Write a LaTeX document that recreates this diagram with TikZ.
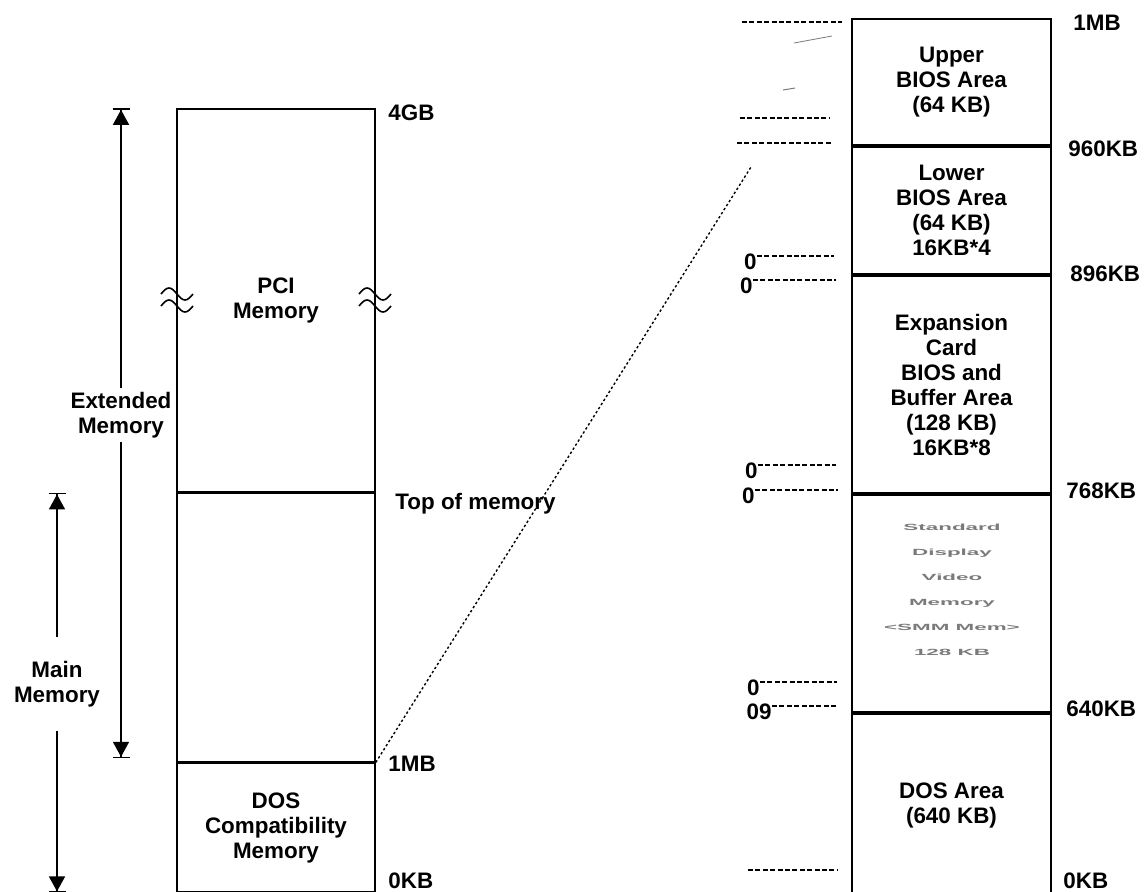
\documentclass[tikz,border=0pt]{standalone}
\usepackage{fontspec}
\setmainfont{Liberation Sans}
\usetikzlibrary{arrows.meta,positioning}
\definecolor{ghostgray}{HTML}{7A7A7A}

\begin{document}
\begin{tikzpicture}[x=0.5pt,y=-0.5pt,
  every node/.style={font=\fontsize{11.2}{12.5}\selectfont\bfseries},
  seg/.style={draw, line width=0.8pt, minimum width=99pt, inner sep=0pt, align=center},
  rseg/.style={seg, line width=1pt, minimum width=99.5pt},
  addr/.style={anchor=west, inner sep=0pt},
  dimline/.style={line width=0.8pt,
    -{Triangle[length=7.5pt,width=8pt]Bar[width=8.5pt]}},
  dotline/.style={line width=0.7pt, dash pattern=on 1.2pt off 1.2pt},
  hexdash/.style={line width=1.1pt, dash pattern=on 2.5pt off 1.2pt},
  ghost/.style={ghostgray, inner sep=0pt, align=center}]
  \useasboundingbox (0,0) rectangle (1147,891);

  %% Left column: whole address space
  \node[seg, minimum height=191.5pt] (pci) at (276,300.5) {PCI\\Memory};
  \node[seg, minimum height=134pt, below=0pt of pci] (mainblk) {};
  \node[seg, minimum height=64.5pt, below=0pt of mainblk] (dosc)
    {DOS\\Compatibility\\Memory};

  %% Break marks on the PCI block
  \foreach \sx in {177,375} {
    \foreach \dy in {-6,6} {
      \draw[line width=0.8pt] (\sx-16,300+\dy) sin (\sx-8,294+\dy)
        cos (\sx,300+\dy) sin (\sx+8,306+\dy) cos (\sx+16,300+\dy);
    }
  }

  %% Left column addresses
  \node[addr] (a4gb) at (388,113) {4GB};
  \node[addr] (atop) at (395,504) {Top of memory};
  \node[addr] (a1mb) at (388,764) {1MB};
  \node[addr] (a0kb) at (388,881) {0KB};

  %% Extended / main memory spans
  \node[align=center, inner sep=2pt] (extmem) at (121,415) {Extended\\Memory};
  \draw[dimline] (extmem.north) -- (extmem.north |- pci.north);
  \draw[dimline] (extmem.south) -- ([yshift=2pt]extmem.south |- dosc.north);
  \node[align=center, inner xsep=2pt, inner ysep=12pt] (mainmem) at (57,684)
    {Main\\Memory};
  \draw[dimline] (mainmem.north) -- (mainmem.north |- mainblk.north);
  \draw[dimline] (mainmem.south) -- (mainmem.south |- dosc.south);

  %% Right column: first megabyte
  \node[rseg, minimum height=63pt] (upper) at (951.5,82)
    {Upper\\BIOS Area\\(64 KB)};
  \node[rseg, minimum height=63.5pt, below=0pt of upper] (lower)
    {Lower\\BIOS Area\\(64 KB)\\16KB*4};
  \node[rseg, minimum height=108.5pt, below=0pt of lower] (expn)
    {Expansion\\Card\\BIOS and\\Buffer Area\\(128 KB)\\16KB*8};
  \node[rseg, minimum height=108.5pt, below=0pt of expn] (video) {};
  \node[rseg, minimum height=91.5pt, below=0pt of video] (dos)
    {DOS Area\\(640 KB)};

  %% Faded video memory text
  \node[ghost] (vidtxt) at (952,590)
    {\scalebox{1}[0.4]{Standard}\\\scalebox{1}[0.4]{Display}\\
     \scalebox{1}[0.4]{Video}\\\scalebox{1}[0.4]{Memory}\\
     \scalebox{1}[0.4]{<SMM Mem>}\\\scalebox{1}[0.4]{128 KB}};

  %% Right column addresses
  \node[addr] (b1mb) at (1073,23) {1MB};
  \node[addr] (b960) at (1068,149) {960KB};
  \node[addr] (b896) at (1070,274) {896KB};
  \node[addr] (b768) at (1066,491) {768KB};
  \node[addr] (b640) at (1066,709) {640KB};
  \node[addr] (b0kb) at (1063,881) {0KB};

  %% Zoom lines between the columns
  \coordinate (zoomtop) at (751,167);
  \draw[dotline] (dosc.north east) -- (zoomtop);
  \draw[dotline] (dosc.south east) -- (dos.south west);

  %% Broken hex address marks
  \foreach \y/\xa/\xb in {22/742/842,118/740/830,143/737/832,870/748/837}
    \draw[hexdash] (\xa,\y) -- (\xb,\y);
  \foreach \lbl/\x/\y/\xb [count=\i] in
      {0/757/256/834,0/753/280/836,0/758/465/836,
       0/755/490/838,0/760/682/837,09/772/706/838} {
    \node[anchor=north east, inner sep=0pt] (hex\i) at (\x,\y-3) {\lbl};
    \draw[hexdash] (hex\i.north east |- 0,\y) -- (\xb,\y);
  }
  \draw[ghostgray, line width=0.4pt] (794,43) -- (832,36);
  \draw[ghostgray, line width=0.5pt] (783,90) -- (795,88);
\end{tikzpicture}
\end{document}
